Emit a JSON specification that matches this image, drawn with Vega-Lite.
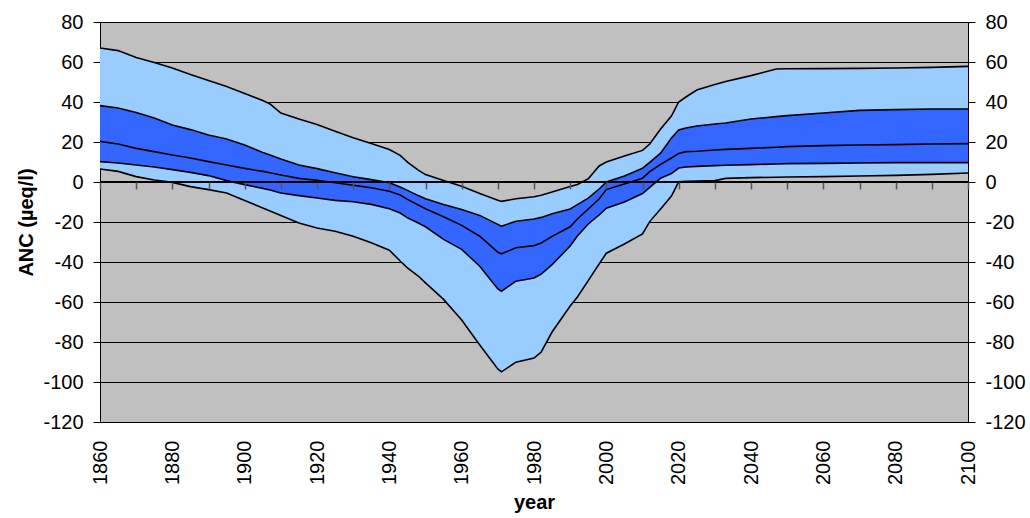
{
  "$schema": "https://vega.github.io/schema/vega-lite/v6.json",
  "width": 868,
  "height": 400,
  "autosize": "none",
  "padding": {"left": 100, "top": 22, "right": 62, "bottom": 96},
  "background": "white",
  "view": {"fill": "#C0C0C0", "stroke": "#000000", "strokeWidth": 1},
  "data": {
    "values": [
      {"year": 1860, "lo": 6.5, "q1": 10.2, "med": 20.3, "q3": 38.2, "hi": 67},
      {"year": 1865, "lo": 5.3, "q1": 9.5, "med": 19, "q3": 37, "hi": 65.7},
      {"year": 1870, "lo": 2.7, "q1": 8.5, "med": 16.8, "q3": 34.8, "hi": 62.3},
      {"year": 1875, "lo": 1, "q1": 7.5, "med": 15.2, "q3": 32, "hi": 59.8},
      {"year": 1880, "lo": -0.2, "q1": 6.2, "med": 13.5, "q3": 28.5, "hi": 57},
      {"year": 1885, "lo": -2.3, "q1": 4.8, "med": 12, "q3": 26.2, "hi": 53.7},
      {"year": 1890, "lo": -3.8, "q1": 3.2, "med": 10.2, "q3": 23.5, "hi": 50.7},
      {"year": 1895, "lo": -5.5, "q1": 0.7, "med": 8.5, "q3": 21.5, "hi": 47.7},
      {"year": 1900, "lo": -9.3, "q1": -1.3, "med": 6.8, "q3": 18.5, "hi": 44.3},
      {"year": 1905, "lo": -13, "q1": -3.2, "med": 5.3, "q3": 14.8, "hi": 40.7},
      {"year": 1907, "lo": -14.5, "q1": -4, "med": 4.6, "q3": 13.5, "hi": 39},
      {"year": 1910, "lo": -16.8, "q1": -5.5, "med": 3.5, "q3": 11.5, "hi": 34.5},
      {"year": 1915, "lo": -20.5, "q1": -6.8, "med": 1.8, "q3": 8.5, "hi": 31.5},
      {"year": 1920, "lo": -23, "q1": -8, "med": 0.8, "q3": 6.7, "hi": 28.8},
      {"year": 1925, "lo": -24.6, "q1": -9.2, "med": -0.4, "q3": 4.6, "hi": 25.4},
      {"year": 1930, "lo": -27.1, "q1": -9.9, "med": -1.6, "q3": 2.6, "hi": 22.1},
      {"year": 1935, "lo": -30.4, "q1": -11.2, "med": -2.9, "q3": 1.2, "hi": 19.2},
      {"year": 1940, "lo": -34.1, "q1": -13.4, "med": -4.6, "q3": -0.4, "hi": 16.2},
      {"year": 1943, "lo": -39.5, "q1": -15.5, "med": -6.5, "q3": -2.5, "hi": 13.3},
      {"year": 1945, "lo": -42.9, "q1": -17.9, "med": -8.7, "q3": -4.2, "hi": 9.9},
      {"year": 1948, "lo": -47, "q1": -20.5, "med": -11.5, "q3": -6.8, "hi": 5.9},
      {"year": 1950, "lo": -50.4, "q1": -22.4, "med": -13.4, "q3": -8.4, "hi": 3.7},
      {"year": 1955, "lo": -58.7, "q1": -28.7, "med": -17.4, "q3": -11.2, "hi": 0.7},
      {"year": 1960, "lo": -69, "q1": -33.7, "med": -21.7, "q3": -13.7, "hi": -2.1},
      {"year": 1965, "lo": -81.5, "q1": -42.1, "med": -27.1, "q3": -16.7, "hi": -5.7},
      {"year": 1970, "lo": -93.5, "q1": -53.5, "med": -35.1, "q3": -21.2, "hi": -9.1},
      {"year": 1971, "lo": -94.9, "q1": -54.6, "med": -35.9, "q3": -22.1, "hi": -9.7},
      {"year": 1975, "lo": -90.1, "q1": -49.6, "med": -32.9, "q3": -19.6, "hi": -8.4},
      {"year": 1980, "lo": -88, "q1": -48, "med": -31.8, "q3": -18.5, "hi": -7.4},
      {"year": 1982, "lo": -85, "q1": -46, "med": -30.5, "q3": -17.7, "hi": -6.6},
      {"year": 1985, "lo": -75, "q1": -41.3, "med": -27.2, "q3": -15.9, "hi": -5},
      {"year": 1990, "lo": -62, "q1": -32, "med": -22.4, "q3": -13.5, "hi": -2.3},
      {"year": 1992, "lo": -57.5, "q1": -27, "med": -18.5, "q3": -11.3, "hi": -1.2},
      {"year": 1995, "lo": -49.3, "q1": -21, "med": -13.5, "q3": -8.1, "hi": 1.6},
      {"year": 1998, "lo": -41, "q1": -16.5, "med": -8.5, "q3": -3.5, "hi": 8},
      {"year": 2000, "lo": -35.6, "q1": -13.1, "med": -3.8, "q3": 0, "hi": 10},
      {"year": 2005, "lo": -31, "q1": -10, "med": -1, "q3": 3, "hi": 13},
      {"year": 2010, "lo": -26, "q1": -5.8, "med": 1.9, "q3": 6.9, "hi": 15.8},
      {"year": 2012, "lo": -19.8, "q1": -2.7, "med": 5.2, "q3": 9.8, "hi": 19},
      {"year": 2015, "lo": -13.5, "q1": 1.9, "med": 8.8, "q3": 14.4, "hi": 26.5},
      {"year": 2018, "lo": -7, "q1": 4.2, "med": 12, "q3": 22, "hi": 33},
      {"year": 2020, "lo": 0.1, "q1": 7, "med": 14.3, "q3": 26, "hi": 40},
      {"year": 2022, "lo": 0.3, "q1": 7.5, "med": 15.2, "q3": 27, "hi": 42.5},
      {"year": 2025, "lo": 0.5, "q1": 7.8, "med": 15.4, "q3": 28, "hi": 46},
      {"year": 2030, "lo": 0.7, "q1": 8.2, "med": 16, "q3": 29, "hi": 48.7},
      {"year": 2033, "lo": 1.8, "q1": 8.4, "med": 16.3, "q3": 29.5, "hi": 50.3},
      {"year": 2040, "lo": 2.2, "q1": 8.7, "med": 16.8, "q3": 31.5, "hi": 53.2},
      {"year": 2047, "lo": 2.4, "q1": 9, "med": 17.4, "q3": 32.7, "hi": 56.5},
      {"year": 2050, "lo": 2.5, "q1": 9.2, "med": 17.7, "q3": 33.2, "hi": 56.6},
      {"year": 2060, "lo": 2.7, "q1": 9.3, "med": 18.2, "q3": 34.5, "hi": 56.7},
      {"year": 2070, "lo": 3, "q1": 9.5, "med": 18.5, "q3": 35.8, "hi": 56.8},
      {"year": 2080, "lo": 3.3, "q1": 9.7, "med": 18.7, "q3": 36.2, "hi": 57},
      {"year": 2090, "lo": 3.8, "q1": 9.7, "med": 19, "q3": 36.5, "hi": 57.3},
      {"year": 2100, "lo": 4.5, "q1": 9.7, "med": 19.2, "q3": 36.5, "hi": 57.8}
    ]
  },
  "layer": [
    {
      "mark": {"type": "area", "color": "#99CCFF", "opacity": 1},
      "encoding": {
        "x": {
          "field": "year",
          "type": "quantitative",
          "scale": {"domain": [1860, 2100], "nice": false, "zero": false},
          "axis": {
            "title": "year",
            "values": [1860, 1880, 1900, 1920, 1940, 1960, 1980, 2000, 2020, 2040, 2060, 2080, 2100],
            "format": "d",
            "labelAngle": -90,
            "labelAlign": "right",
            "labelBaseline": "middle",
            "labelPadding": 18,
            "ticks": false,
            "domain": false,
            "grid": false,
            "titlePadding": 8
          }
        },
        "y": {
          "field": "lo",
          "type": "quantitative",
          "scale": {"domain": [-120, 80], "nice": false},
          "axis": {
            "title": "ANC (µeq/l)",
            "orient": "left",
            "values": [-120, -100, -80, -60, -40, -20, 0, 20, 40, 60, 80],
            "labelExpr": "toString(datum.value)",
            "grid": true,
            "gridColor": "#000000",
            "gridWidth": 1,
            "gridOpacity": 1,
            "domainColor": "#000000",
            "tickColor": "#000000",
            "tickSize": 7,
            "labelPadding": 10,
            "titlePadding": 6
          }
        },
        "y2": {"field": "hi"}
      }
    },
    {
      "mark": {"type": "area", "color": "#3366FF", "opacity": 1},
      "encoding": {
        "x": {"field": "year", "type": "quantitative", "axis": null},
        "y": {"field": "q1", "type": "quantitative", "axis": null},
        "y2": {"field": "q3"}
      }
    },
    {
      "transform": [
        {"fold": ["lo", "q1", "med", "q3", "hi"], "as": ["series", "value"]}
      ],
      "mark": {"type": "line", "color": "#000000", "strokeWidth": 1.6},
      "encoding": {
        "x": {
          "field": "year",
          "type": "quantitative",
          "axis": {
            "title": null,
            "orient": "top",
            "offset": -167,
            "values": [1860, 1870, 1880, 1890, 1900, 1910, 1920, 1930, 1940, 1950, 1960, 1970, 1980, 1990, 2000, 2010, 2020, 2030, 2040, 2050, 2060, 2070, 2080, 2090, 2100],
            "labels": false,
            "grid": false,
            "domain": false,
            "tickColor": "#555555",
            "tickWidth": 1.5,
            "tickSize": 7,
            "zindex": 1
          }
        },
        "y": {
          "field": "value",
          "type": "quantitative",
          "axis": {
            "title": null,
            "orient": "right",
            "values": [-120, -100, -80, -60, -40, -20, 0, 20, 40, 60, 80],
            "labelExpr": "toString(datum.value)",
            "grid": false,
            "domainColor": "#000000",
            "tickColor": "#000000",
            "tickSize": 7,
            "labelPadding": 10
          }
        },
        "detail": {"field": "series"}
      }
    },
    {
      "mark": {"type": "rule", "color": "#000000", "strokeWidth": 2},
      "encoding": {
        "y": {"datum": 0, "type": "quantitative", "axis": null}
      }
    }
  ],
  "resolve": {"axis": {"x": "independent", "y": "independent"}},
  "config": {
    "font": "Liberation Sans",
    "axis": {
      "labelFont": "Liberation Sans",
      "labelFontSize": 20,
      "labelColor": "#000000",
      "titleFont": "Liberation Sans",
      "titleFontSize": 20,
      "titleFontWeight": "bold",
      "titleColor": "#000000"
    }
  }
}
